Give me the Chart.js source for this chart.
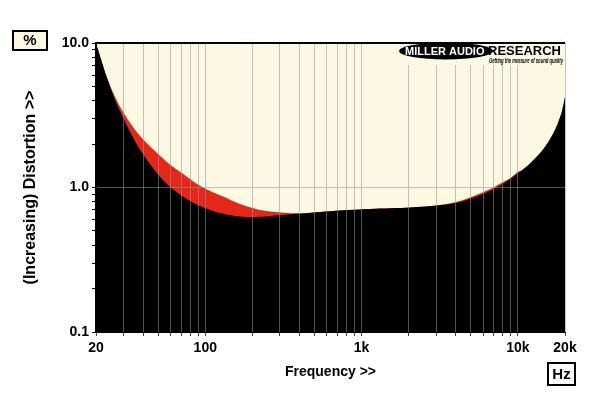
<!DOCTYPE html>
<html>
<head>
<meta charset="utf-8">
<script src="https://cdn.jsdelivr.net/npm/chart.js@4.4.1/dist/chart.umd.min.js"></script>
<style>
  html, body { margin: 0; padding: 0; background: #fff; }
  canvas { display: block; }
</style>
</head>
<body>
<canvas id="c" width="600" height="399"></canvas>
<script>
// frequency (Hz) and distortion (%)
var blackFreq = [20, 21.2, 22.5, 23.9, 25.3, 27.3, 29.9, 33, 38.2, 44.4, 51.3, 59.1, 69, 80, 92.6, 107.6, 124, 155.6, 194, 242, 303, 406, 546, 733, 1140, 2060, 3070, 4120, 5221, 6709, 7775, 9012, 10447, 12107, 14031, 15797, 17006, 18034, 19135, 20000];
var blackVal  = [10, 8.13, 6.62, 5.47, 4.59, 3.74, 3.04, 2.43, 1.83, 1.45, 1.19, 1.016, 0.895, 0.807, 0.746, 0.700, 0.667, 0.636, 0.626, 0.631, 0.646, 0.662, 0.678, 0.694, 0.711, 0.728, 0.751, 0.788, 0.853, 0.953, 1.04, 1.154, 1.30, 1.49, 1.76, 2.11, 2.43, 2.81, 3.40, 4.24];

var redFreq = [20, 21.2, 22.5, 23.9, 26.1, 28.5, 33, 38.2, 44.4, 51.3, 59.1, 72.3, 88.7, 107.6, 130, 167, 224, 303, 406, 546, 733, 1140, 2060, 3070, 4120, 5221, 6709, 7775, 9012, 10447, 20000];
var redVal  = [10, 8.13, 6.62, 5.47, 4.38, 3.62, 2.81, 2.28, 1.92, 1.66, 1.45, 1.24, 1.057, 0.946, 0.867, 0.769, 0.700, 0.672, 0.662, 0.678, 0.694, 0.711, 0.728, 0.753, 0.80, 0.875, 0.98, 1.07, 1.17, 1.30, 1.0];

var xTickVals = [20, 100, 1000, 10000, 20000];
var xTickLabels = ['20', '100', '1k', '10k', '20k'];
var yTickVals = [0.1, 1, 10];
var yTickLabels = ['0.1', '1.0', '10.0'];

function pts(f, v) {
  return f.map(function (x, i) { return { x: x, y: v[i] }; });
}
function near(a, b) { return Math.abs(a - b) / b < 1e-6; }
function findLabel(vals, labels, value) {
  for (var i = 0; i < vals.length; i++) if (near(value, vals[i])) return labels[i];
  return '';
}
function logTicks(lo, hi) {
  var out = [];
  for (var e = -1; e <= 4; e++) {
    for (var s = 1; s <= 9; s++) {
      var v = parseFloat((s * Math.pow(10, e)).toPrecision(6));
      if (v >= lo - 1e-9 && v <= hi + 1e-9) out.push({ value: v });
    }
  }
  return out;
}

var cream = '#fcf9e3';
var gridGray = 'rgba(150,150,150,0.55)';
var font = 'Arial, "Liberation Sans", sans-serif';

var decor = {
  id: 'decor',
  beforeDraw: function (chart) {
    var c = chart.ctx, a = chart.chartArea;
    c.save();
    c.fillStyle = '#fff';
    c.fillRect(0, 0, chart.width, chart.height);
    c.fillStyle = cream;
    c.fillRect(a.left, a.top, a.right - a.left, a.bottom - a.top);
    c.restore();
  },
  afterDraw: function (chart) {
    var c = chart.ctx, a = chart.chartArea;
    c.save();
    // top border
    c.fillStyle = '#000';
    c.fillRect(a.left, a.top - 1, a.right - a.left, 2);

    // logo
    c.fillStyle = cream;
    c.fillRect(393, a.top + 1, a.right - 393, 21);
    c.fillStyle = '#000';
    c.beginPath();
    c.ellipse(446, 51, 47, 8.5, 0, 0, Math.PI * 2);
    c.fill();
    c.textBaseline = 'middle';
    c.textAlign = 'left';
    c.fillStyle = '#fff';
    c.font = 'bold 11px ' + font;
    c.fillText('MILLER AUDIO', 405, 51.5, 81);
    c.fillStyle = '#000';
    c.font = 'bold 13px ' + font;
    c.fillText('RESEARCH', 488, 51.5, 76);
    c.font = 'bold italic 6.5px ' + font;
    c.fillText('Getting the measure of sound quality', 489, 61.5, 74);

    // unit boxes
    c.lineWidth = 2;
    c.strokeStyle = '#000';
    c.fillStyle = cream;
    c.fillRect(13, 31, 34, 19);
    c.strokeRect(13, 31, 34, 19);
    c.fillStyle = '#fff';
    c.fillRect(548, 363, 27, 22);
    c.strokeRect(548, 363, 27, 22);
    c.fillStyle = '#000';
    c.textAlign = 'center';
    c.font = 'bold 15px ' + font;
    c.fillText('%', 30, 41);
    c.fillText('Hz', 561.5, 374.5);
    c.restore();
  }
};

new Chart(document.getElementById('c').getContext('2d'), {
  type: 'line',
  data: {
    datasets: [
      {
        label: 'black',
        data: pts(blackFreq, blackVal),
        borderWidth: 0,
        borderColor: '#000',
        backgroundColor: '#000',
        pointRadius: 0,
        fill: 'start',
        tension: 0.3
      },
      {
        label: 'red',
        data: pts(redFreq, redVal),
        borderWidth: 0,
        borderColor: '#e3281a',
        backgroundColor: '#e3281a',
        pointRadius: 0,
        fill: 'start',
        tension: 0.3
      }
    ]
  },
  options: {
    responsive: false,
    animation: false,
    devicePixelRatio: 1,
    layout: { padding: { top: 43, right: 35, left: 0, bottom: 0 } },
    plugins: { legend: { display: false }, tooltip: { enabled: false } },
    scales: {
      x: {
        type: 'logarithmic',
        min: 20,
        max: 20000,
        afterBuildTicks: function (s) { s.ticks = logTicks(20, 20000); },
        afterFit: function (s) { s.height = 67; },
        grid: { color: gridGray, z: 1, tickLength: 4, tickColor: '#444' },
        border: { color: '#000', width: 1, z: 1 },
        ticks: {
          autoSkip: false,
          maxRotation: 0,
          padding: 4,
          color: '#000',
          font: { family: font, size: 14, weight: 'bold' },
          callback: function (v) { return findLabel(xTickVals, xTickLabels, v); }
        },
        title: {
          display: true,
          text: 'Frequency >>',
          color: '#000',
          font: { family: font, size: 14, weight: 'bold' },
          padding: { top: 0, bottom: 18 }
        }
      },
      y: {
        type: 'logarithmic',
        min: 0.1,
        max: 10,
        afterBuildTicks: function (s) { s.ticks = logTicks(0.1, 10); },
        afterFit: function (s) { s.width = 96; },
        grid: {
          z: 1,
          tickLength: 4,
          tickColor: '#000',
          color: function (ctx) {
            return ctx.tick && near(ctx.tick.value, 1) ? gridGray : 'rgba(0,0,0,0)';
          }
        },
        border: { color: '#000', width: 2, z: 1 },
        ticks: {
          autoSkip: false,
          padding: 3,
          color: '#000',
          font: { family: font, size: 14, weight: 'bold' },
          callback: function (v) { return findLabel(yTickVals, yTickLabels, v); }
        },
        title: {
          display: true,
          text: '(Increasing) Distortion >>',
          color: '#000',
          font: { family: font, size: 16, weight: 'bold' },
          padding: { top: 21, bottom: 0 }
        }
      }
    }
  },
  plugins: [decor]
});
</script>
</body>
</html>
